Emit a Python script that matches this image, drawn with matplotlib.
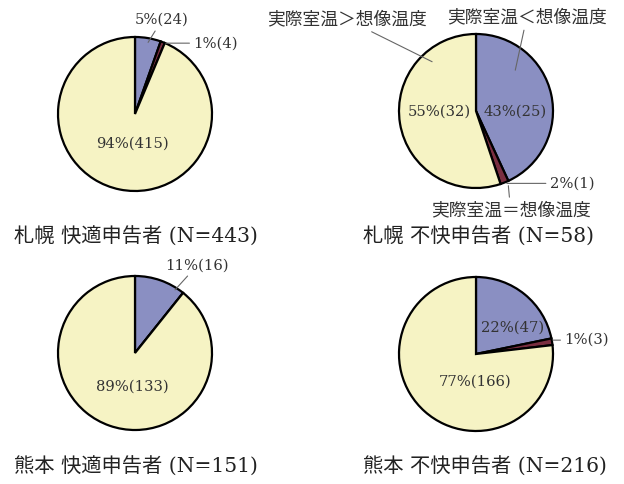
import matplotlib
matplotlib.use("Agg")
import matplotlib.pyplot as plt

plt.rcParams['font.family'] = ['DejaVu Serif', 'Noto Sans CJK JP']

# counts per panel: 実際室温<想像温度, 実際室温=想像温度, 実際室温>想像温度
titles = ["札幌 快適申告者 (N=443)", "札幌 不快申告者 (N=58)",
          "熊本 快適申告者 (N=151)", "熊本 不快申告者 (N=216)"]
lower = [24, 25, 16, 47]
equal = [4, 1, 0, 3]
higher = [415, 32, 133, 166]
cat_names = ["実際室温＜想像温度", "実際室温＝想像温度", "実際室温＞想像温度"]

colors = ["#8A8FC2", "#7A2E40", "#F6F3C4"]
W, H = 624, 484
R = 77  # pie radius in pixels

fig = plt.figure(figsize=(W / 100, H / 100), dpi=100)

# pie centres and title anchors in pixels
centres = [(135, 114), (476, 111), (135, 353), (476, 354)]
title_pos = [(14, 237), (363, 237), (14, 467), (363, 467)]


def lab(i, k):
    vals = [lower[i], equal[i], higher[i]]
    n = sum(vals)
    return f"{round(100 * vals[k] / n)}%({vals[k]})"


# label placement (pie data units): (panel, category, text, xytext, xy or None)
labels = [
    (0, 0, None, (0.35, 1.22), (0.17, 0.93)),
    (0, 1, None, (1.05, 0.92), (0.40, 0.92)),
    (0, 2, None, (-0.03, -0.38), None),
    (1, 0, None, (0.51, -0.01), None),
    (1, 2, None, (-0.47, -0.01), None),
    (1, 1, None, (1.25, -0.94), (0.40, -0.94)),
    (1, 0, cat_names[0], (0.66, 1.22), (0.51, 0.53)),
    (1, 2, cat_names[2], (-1.68, 1.19), (-0.57, 0.64)),
    (1, 1, cat_names[1], (0.45, -1.29), (0.42, -0.97)),
    (2, 0, None, (0.81, 1.14), (0.52, 0.82)),
    (2, 2, None, (-0.03, -0.44), None),
    (3, 0, None, (0.47, 0.34), None),
    (3, 1, None, (1.44, 0.18), (1.0, 0.18)),
    (3, 2, None, (-0.01, -0.36), None),
]

axes = []
for i, (cx, cy) in enumerate(centres):
    ax = fig.add_axes([(cx - R) / W, (H - cy - R) / H, 2 * R / W, 2 * R / H])
    vals = [lower[i], equal[i], higher[i]]
    ax.pie(vals, colors=colors, startangle=90, counterclock=False,
           wedgeprops=dict(edgecolor="black", linewidth=1.6))
    ax.set_xlim(-1, 1)
    ax.set_ylim(-1, 1)
    ax.set_aspect("auto")
    ax.axis("off")
    axes.append(ax)
    tx, ty = title_pos[i]
    fig.text(tx / W, 1 - ty / H, titles[i], fontsize=14.6, ha="left",
             va="center", color="#222222")

for i, k, txt, xt, xy in labels:
    ax = axes[i]
    s = txt if txt else lab(i, k)
    fs = 12.8 if txt else 10.6
    if xy is None:
        ax.text(xt[0], xt[1], s, ha="center", va="center", fontsize=fs,
                color="#333333")
    else:
        ax.annotate(s, xy=xy, xytext=xt, ha="center", va="center",
                    fontsize=fs, color="#333333", annotation_clip=False,
                    arrowprops=dict(arrowstyle="-", lw=0.8, color="#666666",
                                    shrinkA=1, shrinkB=0))

fig.savefig("out.png", dpi=100)
